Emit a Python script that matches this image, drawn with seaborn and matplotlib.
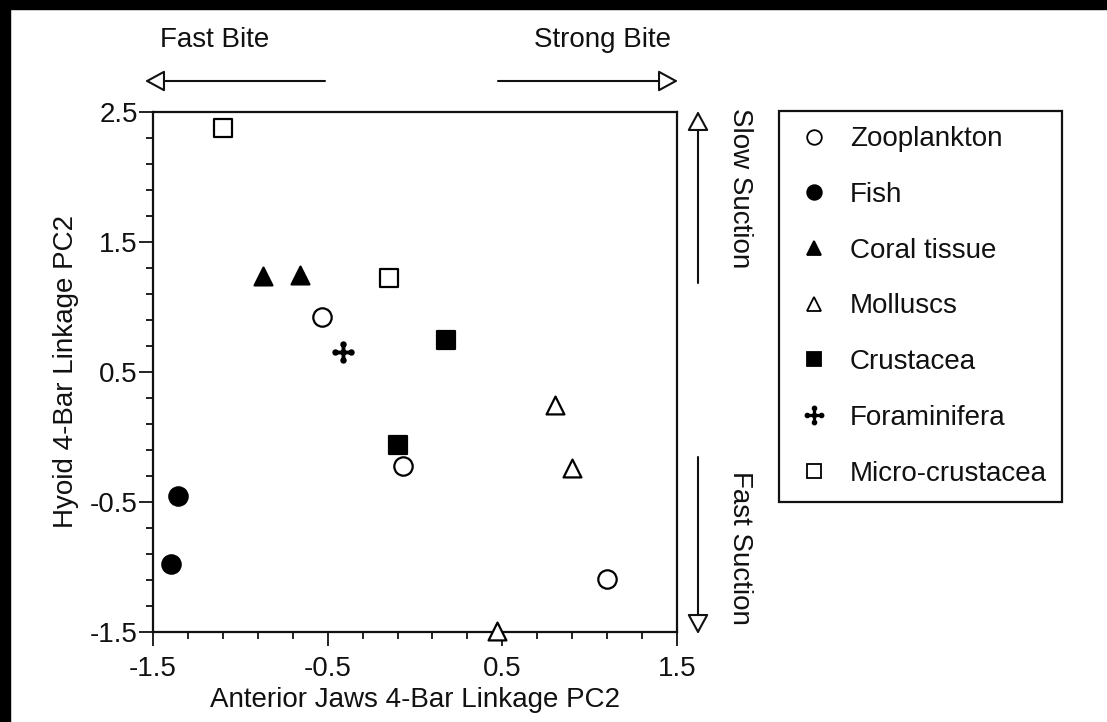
"""Feeding mechanics morphospace: hyoid vs anterior jaw 4-bar linkage PC2,
points coded by primary diet."""

import pandas as pd
import seaborn as sns
import matplotlib.pyplot as plt
from matplotlib.path import Path
from matplotlib.lines import Line2D
from matplotlib.patches import Rectangle
from matplotlib.ticker import MultipleLocator, FixedLocator

# --- Data ---
DIETS = ["Zooplankton", "Fish", "Coral tissue", "Molluscs",
         "Crustacea", "Foraminifera", "Micro-crustacea"]

POINT_DIET = ["Micro-crustacea", "Micro-crustacea", "Coral tissue",
              "Coral tissue", "Zooplankton", "Foraminifera", "Crustacea",
              "Crustacea", "Zooplankton", "Molluscs", "Molluscs", "Molluscs",
              "Fish", "Fish", "Zooplankton"]
JAWS_PC2 = [-1.10, -0.15, -0.87, -0.66, -0.53, -0.415, 0.175,
            -0.10, -0.07, 0.80, 0.90, 0.47, -1.355, -1.395, 1.10]
HYOID_PC2 = [2.38, 1.22, 1.24, 1.25, 0.92, 0.655, 0.745,
             -0.065, -0.225, 0.245, -0.235, -1.49, -0.455, -0.975, -1.095]

MAJOR_TICKS = [-1.5, -0.5, 0.5, 1.5]
Y_MAJOR_TICKS = [-1.5, -0.5, 0.5, 1.5, 2.5]
FS = 20


def foram_marker():
    """Plus sign with balls on the ends (the 'Foraminifera' glyph)."""
    a = 0.08
    plus = Path([(-a, -0.8), (a, -0.8), (a, -a), (0.8, -a), (0.8, a),
                 (a, a), (a, 0.8), (-a, 0.8), (-a, a), (-0.8, a),
                 (-0.8, -a), (-a, -a), (-a, -0.8)], closed=True)
    balls = [Path.circle(c, 0.21) for c in
             [(0.8, 0), (-0.8, 0), (0, 0.8), (0, -0.8), (0, 0)]]
    return Path.make_compound_path(plus, *balls)


FORAM = foram_marker()

# marker, face colour, size
STYLE = {
    "Zooplankton": ("o", "white", 175),
    "Fish": ("o", "black", 175),
    "Coral tissue": ("^", "black", 165),
    "Molluscs": ("^", "white", 165),
    "Crustacea": ("s", "black", 170),
    "Foraminifera": (FORAM, "black", 210),
    "Micro-crustacea": ("s", "white", 150),
}

df = pd.DataFrame({"jaws": JAWS_PC2, "hyoid": HYOID_PC2, "diet": POINT_DIET})

sns.set_theme(style="white")
plt.rcParams.update({
    "font.family": ["Liberation Sans", "DejaVu Sans"],
    "font.size": FS,
    "axes.unicode_minus": False,
    "text.color": "#111111",
    "axes.labelcolor": "#111111",
    "xtick.color": "#111111",
    "ytick.color": "#111111",
})

W, H = 1107, 722
fig = plt.figure(figsize=(W / 100, H / 100), dpi=100)
fig.patch.set_facecolor("white")
ax = fig.add_axes([153 / W, 1 - 632 / H, (677 - 153) / W, (632 - 112) / H])

for diet in DIETS:
    marker, face, size = STYLE[diet]
    sub = df[df["diet"] == diet]
    sns.scatterplot(data=sub, x="jaws", y="hyoid", ax=ax, marker=marker,
                    color=face, edgecolor="black", linewidth=1.6, s=size,
                    clip_on=False, zorder=3, legend=False)

ax.set_xlim(-1.5, 1.5)
ax.set_ylim(-1.5, 2.5)
ax.xaxis.set_major_locator(FixedLocator(MAJOR_TICKS))
ax.yaxis.set_major_locator(FixedLocator(Y_MAJOR_TICKS))
ax.xaxis.set_minor_locator(MultipleLocator(0.2, offset=0.1))
ax.yaxis.set_minor_locator(MultipleLocator(0.2, offset=0.1))
ax.tick_params(which="both", direction="out", bottom=True, left=True,
               top=False, right=False, width=1.3, colors="#111111")
ax.tick_params(which="major", length=10, labelsize=FS)
ax.tick_params(axis="x", which="major", pad=7)
ax.tick_params(axis="y", which="major", pad=1)
ax.tick_params(which="minor", length=5)
for sp in ax.spines.values():
    sp.set_color("#111111")
    sp.set_linewidth(1.6)

ax.set_xlabel("Anterior Jaws 4-Bar Linkage PC2", fontsize=FS, labelpad=4)
ax.set_ylabel("Hyoid 4-Bar Linkage PC2", fontsize=FS, labelpad=8)


# --- Direction arrows and their labels ---
def arrow(x0, y0, x1, y1):
    ax.annotate("", xy=(x1 / W, 1 - y1 / H), xytext=(x0 / W, 1 - y0 / H),
                xycoords="figure fraction", textcoords="figure fraction",
                arrowprops=dict(arrowstyle="-|>,head_length=1.1,head_width=0.6",
                                mutation_scale=11, fc="white", ec="#111111",
                                lw=1.5, shrinkA=0, shrinkB=0))


arrow(325, 81, 145, 81)
arrow(498, 81, 678, 81)
arrow(698, 283, 698, 111)
arrow(698, 457, 698, 634)

fig.text(215 / W, 1 - 40 / H, "Fast Bite", ha="center", va="center", fontsize=FS)
fig.text(603 / W, 1 - 40 / H, "Strong Bite", ha="center", va="center", fontsize=FS)
fig.text(740 / W, 1 - 188 / H, "Slow Suction", ha="center", va="center",
         rotation=-90, fontsize=FS)
fig.text(740 / W, 1 - 548 / H, "Fast Suction", ha="center", va="center",
         rotation=-90, fontsize=FS)

# --- Legend ---
handles = [Line2D([], [], linestyle="none", marker=STYLE[d][0],
                  markerfacecolor=STYLE[d][1], markeredgecolor="black",
                  markeredgewidth=1.3,
                  markersize=10.5 if STYLE[d][0] is not FORAM else 13,
                  label=d) for d in DIETS]
leg = fig.legend(handles=handles, loc="upper left",
                 bbox_to_anchor=(779 / W, 1 - 111 / H), frameon=True,
                 fancybox=False, edgecolor="#111111", framealpha=1,
                 fontsize=FS, borderpad=0.55, labelspacing=1.07,
                 handlelength=1.4, handletextpad=0.6, borderaxespad=0)
leg.get_frame().set_linewidth(1.6)

# scanned-page black edge along top and left
fig.patches.append(Rectangle((0, 0), 10 / W, 1, transform=fig.transFigure,
                             color="black", zorder=10))
fig.patches.append(Rectangle((0, 1 - 9 / H), 1, 9 / H, transform=fig.transFigure,
                             color="black", zorder=10))

fig.savefig("out.png", dpi=100)
